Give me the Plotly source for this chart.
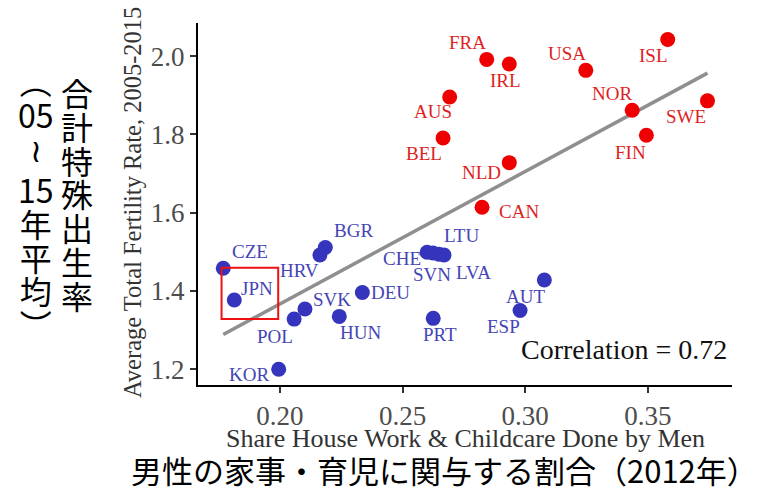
import numpy as np
import plotly.graph_objects as go

# Countries with fertility above / below the trend grouping
countries_high = ["FRA", "IRL", "USA", "ISL", "NOR", "SWE", "FIN", "AUS", "BEL", "NLD", "CAN"]
share_high = [0.2843, 0.2935, 0.3247, 0.3581, 0.3436, 0.3743, 0.3494, 0.2692, 0.2665, 0.2935, 0.2824]
tfr_high = [1.992, 1.980, 1.964, 2.043, 1.862, 1.886, 1.798, 1.896, 1.791, 1.728, 1.614]

countries_low = ["CZE", "JPN", "BGR", "HRV", "POL", "SVK", "HUN", "DEU", "KOR",
                 "CHE", "SVN", "LTU", "LVA", "PRT", "AUT", "ESP"]
share_low = [0.1769, 0.1814, 0.2185, 0.2163, 0.2058, 0.2102, 0.2242, 0.2336, 0.1995,
             0.2600, 0.2624, 0.2648, 0.2669, 0.2625, 0.3078, 0.2979]
tfr_low = [1.458, 1.377, 1.511, 1.492, 1.328, 1.354, 1.335, 1.396, 1.200,
           1.499, 1.497, 1.494, 1.492, 1.330, 1.428, 1.350]

x_ticks = [0.20, 0.25, 0.30, 0.35]
x_tick_labels = ["0.20", "0.25", "0.30", "0.35"]
y_ticks = [1.2, 1.4, 1.6, 1.8, 2.0]
y_tick_labels = ["1.2", "1.4", "1.6", "1.8", "2.0"]

corr_text = "Correlation = 0.72"
x_title = "Share House Work &amp; Childcare Done by Men"
y_title = "Average Total Fertility Rate, 2005-2015"
jp_x_title = "男性の家事・育児に関与する割合（2012年）"
jp_y_main = ["合", "計", "特", "殊", "出", "生", "率"]
jp_y_sub_top = ["︵", "05", "≀"]
jp_y_sub_bottom = ["15", "年", "平", "均", "︶"]

# ---- styling -------------------------------------------------------------
W, H = 767, 490
L, R, T, B = 198, 35, 23, 105
PW, PH = W - L - R, H - T - B
RED, RED_TXT = "#ee0000", "#dd1f1f"
BLUE, BLUE_TXT = "#3434bc", "#4545b5"
SERIF = "Liberation Serif, Times New Roman, serif"
JP = "Noto Sans CJK JP, sans-serif"
ROW = 33.8          # vertical pitch of the stacked Japanese characters
ROW_FONT = ROW / 1.3


def px(xp, yp):
    """pixel position -> paper coordinates"""
    return (xp - L) / PW, (H - B - yp) / PH


def vertical(chars, size=32):
    """stack characters one per line, glyphs larger than the line pitch font"""
    return "<br>".join(f"<span style='font-size:{size}px'>{c}</span>" for c in chars)


# label offsets in pixels (dx right, dy down)
label_offsets = {
    "FRA": (-19, -17), "IRL": (-4, 16), "USA": (-19, -17), "ISL": (-14, 16),
    "NOR": (-20, -17), "SWE": (-21, 16), "FIN": (-16, 17), "AUS": (-17, 15),
    "BEL": (-19, 15), "NLD": (-28, 10), "CAN": (37, 4),
    "CZE": (27, -17), "JPN": (23, -11), "BGR": (28, -17), "HRV": (-20, 16),
    "POL": (-19, 17), "SVK": (27, -9), "HUN": (21, 16), "DEU": (28, 0),
    "KOR": (-30, 5), "CHE": (-25, 6), "SVN": (-1, 21), "LTU": (23, -19),
    "LVA": (29, 18), "PRT": (7, 16), "AUT": (-19, 16), "ESP": (-17, 16),
}

fig = go.Figure()

# linear fit over all countries
all_x = np.array(share_high + share_low)
all_y = np.array(tfr_high + tfr_low)
slope, intercept = np.polyfit(all_x, all_y, 1)
fx = np.array([all_x.min(), all_x.max()])
fig.add_trace(go.Scatter(x=fx, y=intercept + slope * fx, mode="lines",
                         line=dict(color="#8f8f8f", width=3.5), hoverinfo="skip"))

fig.add_trace(go.Scatter(x=share_low, y=tfr_low, mode="markers", text=countries_low,
                         marker=dict(color=BLUE, size=15, line=dict(width=0))))
fig.add_trace(go.Scatter(x=share_high, y=tfr_high, mode="markers", text=countries_high,
                         marker=dict(color=RED, size=15, line=dict(width=0))))

annotations = []
for names, xs, ys, col in [(countries_high, share_high, tfr_high, RED_TXT),
                           (countries_low, share_low, tfr_low, BLUE_TXT)]:
    for n, xv, yv in zip(names, xs, ys):
        dx, dy = label_offsets[n]
        annotations.append(dict(x=xv, y=yv, xref="x", yref="y", text=n, showarrow=False,
                                xanchor="center", yanchor="middle", borderpad=0,
                                xshift=dx, yshift=-dy,
                                font=dict(family=SERIF, size=19, color=col)))


def note(xp, yp, text, font, angle=0, xanchor="center", height=None):
    ax, ay = px(xp, yp)
    ann = dict(x=ax, y=ay, xref="paper", yref="paper", text=text,
               showarrow=False, textangle=angle, borderpad=0,
               xanchor=xanchor, yanchor="middle", font=font)
    if height:
        ann["height"] = height
    annotations.append(ann)


# correlation note
note(728, 349, corr_text, dict(family=SERIF, size=28, color="#111111"), xanchor="right")

# axis titles
note(465, 438.5, x_title, dict(family=SERIF, size=26, color="#333333"))
note(133, 203, y_title, dict(family=SERIF, size=24.5, color="#333333"), angle=-90)

# Japanese captions
note(444, 469, jp_x_title, dict(family=JP, size=31, color="#000000"), height=38)
jp_font = dict(family=JP, size=ROW_FONT, color="#000000")
n = len(jp_y_main)
note(77, 92 + ROW * (n - 1) / 2, vertical(jp_y_main), jp_font)
n = len(jp_y_sub_top)
note(36, 80 + ROW * (n - 1) / 2, vertical(jp_y_sub_top), jp_font)
n = len(jp_y_sub_bottom)
note(36, 189 + ROW * (n - 1) / 2, vertical(jp_y_sub_bottom), jp_font)

# highlight box around Japan
jx, jy = share_low[countries_low.index("JPN")], tfr_low[countries_low.index("JPN")]
shapes = [dict(type="rect", xref="x", yref="y",
               x0=jx - 0.0052, x1=jx + 0.0179, y0=jy - 0.0486, y1=jy + 0.0825,
               line=dict(color="#ee1111", width=2))]

axis_common = dict(showline=True, linecolor="#000000", linewidth=2, mirror=False,
                   showgrid=False, zeroline=False, ticks="outside", ticklen=6,
                   tickwidth=1.5, tickcolor="#333333",
                   tickfont=dict(family=SERIF, size=27, color="#4d4d4d"))

fig.update_layout(
    width=W, height=H, margin=dict(l=L, r=R, t=T, b=B),
    paper_bgcolor="white", plot_bgcolor="white", showlegend=False,
    xaxis=dict(range=[0.1666, 0.3843], tickvals=x_ticks, ticktext=x_tick_labels, **axis_common),
    yaxis=dict(range=[1.1596, 2.085], tickvals=y_ticks, ticktext=y_tick_labels, **axis_common),
    annotations=annotations, shapes=shapes,
)

fig.write_html("out.html")
